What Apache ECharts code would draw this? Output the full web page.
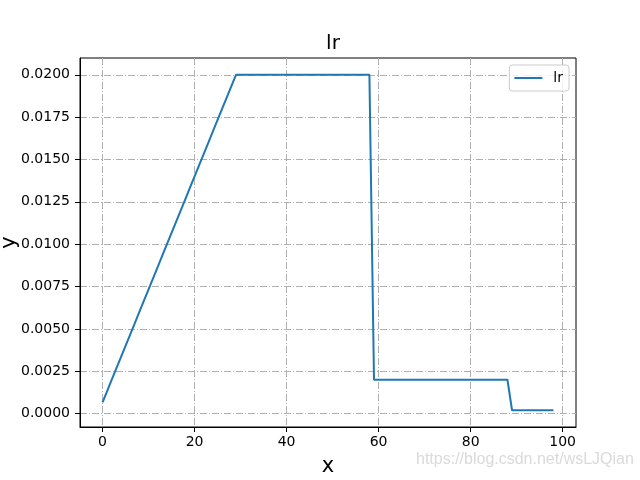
<!DOCTYPE html>
<html>
<head>
<meta charset="utf-8">
<script src="https://cdn.jsdelivr.net/npm/echarts@6/dist/echarts.min.js"></script>
<style>html,body{margin:0;padding:0;background:#fff}#c{width:640px;height:480px}</style>
</head>
<body>
<div id="c"></div>
<script>
const titleText = 'lr';
const seriesName = 'lr';
const xTicks = [0, 20, 40, 60, 80, 100];
const yTicks = [0, 0.0025, 0.005, 0.0075, 0.01, 0.0125, 0.015, 0.0175, 0.02];
// learning rate per epoch (index = epoch 0..98)
const lrValues = [
  0.000667, 0.001333, 0.002, 0.002667, 0.003333, 0.004, 0.004667, 0.005333, 0.006, 0.006667,
  0.007333, 0.008, 0.008667, 0.009333, 0.01, 0.010667, 0.011333, 0.012, 0.012667, 0.013333,
  0.014, 0.014667, 0.015333, 0.016, 0.016667, 0.017333, 0.018, 0.018667, 0.019333, 0.02,
  0.02, 0.02, 0.02, 0.02, 0.02, 0.02, 0.02, 0.02, 0.02, 0.02,
  0.02, 0.02, 0.02, 0.02, 0.02, 0.02, 0.02, 0.02, 0.02, 0.02,
  0.02, 0.02, 0.02, 0.02, 0.02, 0.02, 0.02, 0.02, 0.02,
  0.002, 0.002, 0.002, 0.002, 0.002, 0.002, 0.002, 0.002, 0.002, 0.002,
  0.002, 0.002, 0.002, 0.002, 0.002, 0.002, 0.002, 0.002, 0.002, 0.002,
  0.002, 0.002, 0.002, 0.002, 0.002, 0.002, 0.002, 0.002, 0.002, 0.002,
  0.0002, 0.0002, 0.0002, 0.0002, 0.0002, 0.0002, 0.0002, 0.0002, 0.0002, 0.0002
];
const watermark = 'https://blog.csdn.net/wsLJQian';

const chart = echarts.init(document.getElementById('c'), null, {renderer: 'canvas'});
const gridStyle = {color: '#b0b0b0', width: 1, type: [7, 2, 1, 2]};
const font = 'DejaVu Sans';
chart.setOption({
  animation: false,
  backgroundColor: '#fff',
  title: {
    text: titleText, left: 328, top: 29, textAlign: 'center',
    textStyle: {fontFamily: font, fontSize: 20, fontWeight: 'normal', color: '#000'}
  },
  legend: {
    data: [seriesName], right: 71, top: 65, orient: 'vertical',
    padding: [6, 6, 6, 5], itemGap: 4,
    borderColor: '#cccccc', borderWidth: 1, borderRadius: 3,
    backgroundColor: 'rgba(255,255,255,0.8)',
    icon: 'rect', itemWidth: 28, itemHeight: 2,
    textStyle: {fontFamily: font, fontSize: 14, color: '#000', padding: [0, 0, 0, 6]}
  },
  grid: {left: 80, right: 64, top: 58, bottom: 53, containLabel: false, outerBoundsMode: 'none',
    show: true, borderColor: '#000', borderWidth: 1},
  xAxis: {
    type: 'value', min: -4.9, max: 102.9,
    name: 'x', nameLocation: 'middle', nameGap: 29, nameMoveOverlap: false,
    nameTextStyle: {fontFamily: font, fontSize: 21, color: '#000'},
    axisLine: {show: true, onZero: false, lineStyle: {color: '#000', width: 1}},
    axisTick: {show: true, length: 5, lineStyle: {color: '#000'}, customValues: xTicks},
    axisLabel: {customValues: xTicks, fontFamily: font, fontSize: 14, color: '#000', margin: 8},
    splitLine: {show: true, lineStyle: gridStyle}
  },
  yAxis: {
    type: 'value', min: -0.00079, max: 0.02099,
    name: 'y', nameLocation: 'middle', nameGap: 60, nameMoveOverlap: false,
    nameTextStyle: {fontFamily: font, fontSize: 21, color: '#000'},
    axisLine: {show: true, onZero: false, lineStyle: {color: '#000', width: 1}},
    axisTick: {show: true, length: 5, lineStyle: {color: '#000'}, customValues: yTicks},
    axisLabel: {customValues: yTicks, fontFamily: font, fontSize: 14, color: '#000', margin: 10,
      formatter: v => v.toFixed(4)},
    splitLine: {show: true, lineStyle: gridStyle}
  },
  graphic: [{
    type: 'text', left: 416, top: 452, silent: true,
    style: {text: watermark, fontFamily: 'Liberation Sans', fontSize: 16, fill: '#dadada'}
  }],
  series: [{
    name: seriesName, type: 'line', showSymbol: false, symbol: 'none',
    data: lrValues.map((v, i) => [i, v]),
    lineStyle: {color: '#1f77b4', width: 2},
    itemStyle: {color: '#1f77b4'}
  }]
});
</script>
</body>
</html>
